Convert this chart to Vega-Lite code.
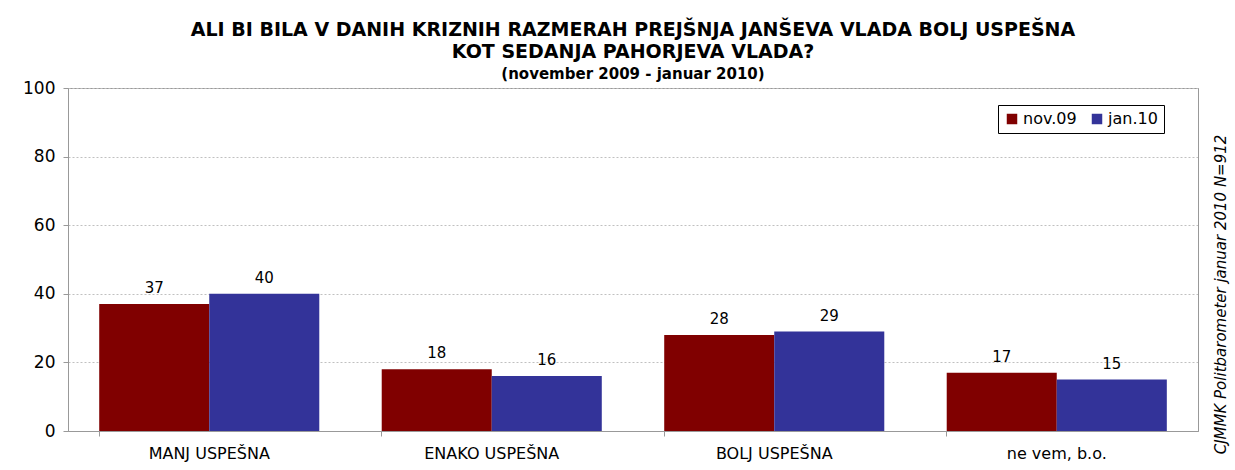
{
  "$schema": "https://vega.github.io/schema/vega-lite/v6.json",
  "autosize": {"type": "none"},
  "padding": {"left": 68, "top": 88, "right": 37, "bottom": 39},
  "width": 1130,
  "height": 343,
  "background": "white",
  "config": {
    "font": "DejaVu Sans",
    "view": {"stroke": "#999999", "strokeWidth": 1}
  },
  "title": {
    "text": ["ALI BI BILA V DANIH KRIZNIH RAZMERAH PREJŠNJA JANŠEVA VLADA BOLJ USPEŠNA", "KOT SEDANJA PAHORJEVA VLADA?"],
    "subtitle": "(november 2009 -  januar 2010)",
    "font": "DejaVu Sans",
    "fontSize": 19,
    "fontWeight": "bold",
    "lineHeight": 22,
    "color": "black",
    "subtitleFont": "DejaVu Sans",
    "subtitleFontSize": 15,
    "subtitleFontWeight": "bold",
    "subtitleColor": "black",
    "subtitlePadding": 5,
    "anchor": "middle",
    "offset": -3
  },
  "data": {
    "values": [
      {"kategorija": "MANJ USPEŠNA", "obdobje": "nov.09", "odstotek": 37},
      {"kategorija": "MANJ USPEŠNA", "obdobje": "jan.10", "odstotek": 40},
      {"kategorija": "ENAKO USPEŠNA", "obdobje": "nov.09", "odstotek": 18},
      {"kategorija": "ENAKO USPEŠNA", "obdobje": "jan.10", "odstotek": 16},
      {"kategorija": "BOLJ USPEŠNA", "obdobje": "nov.09", "odstotek": 28},
      {"kategorija": "BOLJ USPEŠNA", "obdobje": "jan.10", "odstotek": 29},
      {"kategorija": "ne vem, b.o.", "obdobje": "nov.09", "odstotek": 17},
      {"kategorija": "ne vem, b.o.", "obdobje": "jan.10", "odstotek": 15}
    ]
  },
  "encoding": {
    "x": {
      "field": "kategorija",
      "type": "nominal",
      "sort": null,
      "scale": {"paddingInner": 0.221, "paddingOuter": 0.1105},
      "axis": {
        "title": null,
        "labelAngle": 0,
        "labelFont": "DejaVu Sans",
        "labelFontSize": 16,
        "labelColor": "black",
        "labelPadding": 9,
        "bandPosition": 0,
        "ticks": true,
        "tickSize": 5,
        "tickColor": "#999999",
        "domainColor": "#999999"
      }
    },
    "xOffset": {
      "field": "obdobje",
      "type": "nominal",
      "sort": ["nov.09", "jan.10"],
      "scale": {"paddingInner": 0, "paddingOuter": 0}
    }
  },
  "layer": [
    {
      "mark": {"type": "bar"},
      "encoding": {
        "y": {
          "field": "odstotek",
          "type": "quantitative",
          "scale": {"domain": [0, 100]},
          "axis": {
            "title": null,
            "values": [0, 20, 40, 60, 80, 100],
            "labelFont": "DejaVu Sans",
            "labelFontSize": 17,
            "labelColor": "black",
            "labelPadding": 8,
            "tickSize": 5,
            "tickColor": "#999999",
            "domainColor": "#999999",
            "grid": true,
            "gridDash": [2, 2],
            "gridColor": "#c0c0c0"
          }
        },
        "color": {
          "field": "obdobje",
          "type": "nominal",
          "sort": ["nov.09", "jan.10"],
          "scale": {"domain": ["nov.09", "jan.10"], "range": ["#800000", "#333399"]},
          "legend": {
            "title": null,
            "orient": "none",
            "legendX": 930,
            "legendY": 17,
            "direction": "horizontal",
            "strokeColor": "black",
            "fillColor": "white",
            "padding": 6,
            "symbolType": "square",
            "symbolSize": 110,
            "symbolStrokeWidth": 0,
            "labelFont": "DejaVu Sans",
            "labelFontSize": 16,
            "labelColor": "black",
            "columnPadding": 12,
            "labelOffset": 3
          }
        }
      }
    },
    {
      "mark": {"type": "text", "dy": -16, "fontSize": 15, "font": "DejaVu Sans", "color": "black"},
      "encoding": {
        "y": {
          "field": "odstotek",
          "type": "quantitative",
          "scale": {"domain": [0, 100]},
          "axis": {
            "orient": "right",
            "labels": false,
            "ticks": false,
            "grid": false,
            "domainColor": "#999999",
            "title": "CJMMK Politbarometer januar 2010 N=912",
            "titleAngle": 270,
            "titleFont": "DejaVu Sans",
            "titleFontStyle": "italic",
            "titleFontWeight": "normal",
            "titleFontSize": 15,
            "titleColor": "black",
            "titlePadding": 30,
            "titleY": 206
          }
        },
        "text": {"field": "odstotek", "type": "quantitative"}
      }
    }
  ],
  "resolve": {"scale": {"y": "independent"}, "axis": {"y": "independent"}}
}
